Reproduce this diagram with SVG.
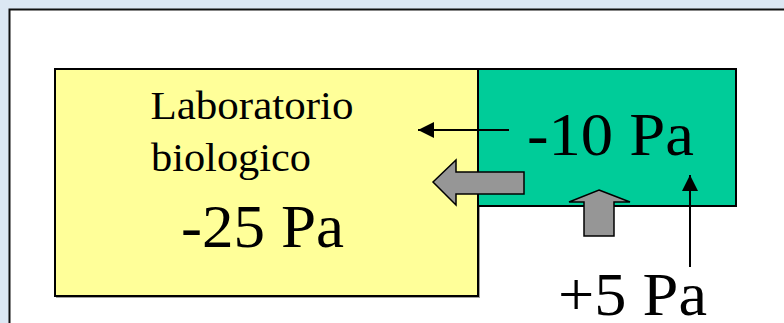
<svg xmlns="http://www.w3.org/2000/svg" width="784" height="323" viewBox="0 0 784 323">
<defs>
<style>
.box{stroke:#000;stroke-width:2}
.big{font-family:"Liberation Serif","Times New Roman",serif;font-size:62px;fill:#000}
.small{font-family:"Liberation Serif","Times New Roman",serif;font-size:41px;fill:#000}
.fat{fill:#969696;stroke:#000;stroke-width:1.5;stroke-linejoin:miter}
.thin{stroke:#000;stroke-width:2;fill:none}
</style>
<marker id="ah2" viewBox="0 0 10 10" refX="10" refY="5" markerWidth="17" markerHeight="16" markerUnits="userSpaceOnUse" orient="auto">
<path d="M0,0 L10,5 L0,10 Z" fill="#000"/>
</marker>
</defs>
<rect x="0" y="0" width="784" height="323" fill="#dce7f3"/>
<rect x="9.5" y="9.5" width="790" height="330" fill="#fff" stroke="#111" stroke-width="2"/>
<g id="lab">
<rect x="56" y="70" width="424" height="228" fill="#a0a0a0"/>
<rect x="55" y="69" width="423" height="227" fill="#ffff99" class="box"/>
<text class="small" x="150.5" y="119" textLength="203" lengthAdjust="spacingAndGlyphs">Laboratorio</text>
<text class="small" x="151" y="171" textLength="160" lengthAdjust="spacingAndGlyphs">biologico</text>
<text class="big" x="181" y="247" textLength="163" lengthAdjust="spacingAndGlyphs">-25 Pa</text>
</g>
<g id="ante">
<rect x="478" y="69" width="258" height="137" fill="#00cc99" class="box"/>
<text class="big" x="527" y="155" textLength="167" lengthAdjust="spacingAndGlyphs">-10 Pa</text>
</g>
<g id="ext">
<text class="big" x="558" y="315" textLength="149" lengthAdjust="spacingAndGlyphs">+5 Pa</text>
</g>
<g id="connectors">
<path class="fat" d="M433,182 L456,160 L456,172 L524,172 L524,194 L456,194 L456,205 Z"/>
<path class="fat" d="M599,190 L630,202 L614,202 L614,236 L584,236 L584,202 L569,202 Z"/>
<line class="thin" x1="509" y1="130" x2="418" y2="130" marker-end="url(#ah2)"/>
<line class="thin" x1="690" y1="267" x2="690" y2="175" marker-end="url(#ah2)"/>
</g>
</svg>
